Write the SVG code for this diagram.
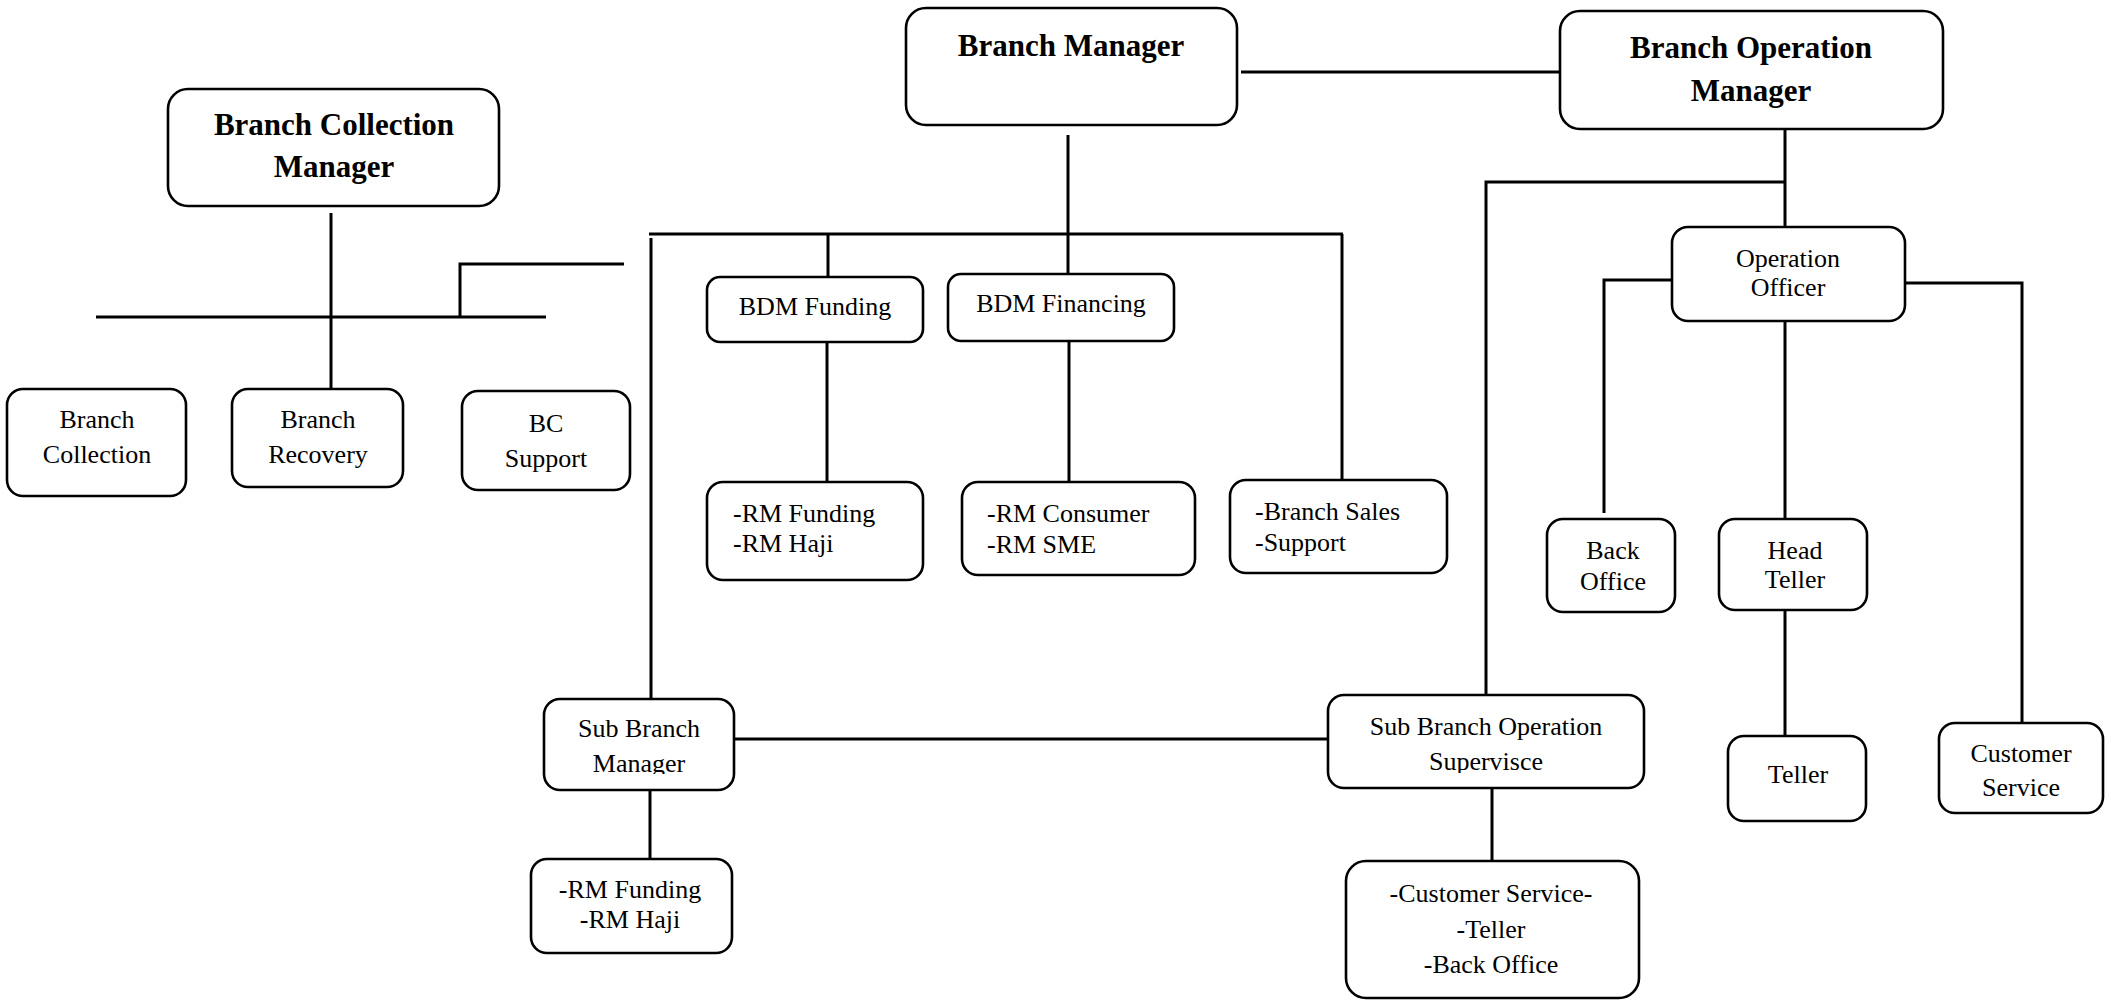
<svg xmlns="http://www.w3.org/2000/svg" width="2111" height="1001" viewBox="0 0 2111 1001">
<style>
.box{fill:#fff;stroke:#000;stroke-width:2.6}
.t{font-family:"Liberation Serif","Times New Roman",serif;font-size:26px;fill:#000}
.b{font-family:"Liberation Serif","Times New Roman",serif;font-size:31px;font-weight:bold;fill:#000}
.c{text-anchor:middle}
.ln{stroke:#000;stroke-width:3;fill:none}
</style>
<defs>
<clipPath id="clipSBM"><rect x="540" y="690" width="200" height="84"/></clipPath>
<clipPath id="clipSBOS"><rect x="1320" y="690" width="330" height="83"/></clipPath>
</defs>
<rect width="2111" height="1001" fill="#fff"/>
<g id="connectors">
<line class="ln" x1="1241" y1="72" x2="1560" y2="72"/>
<line class="ln" x1="1068" y1="135" x2="1068" y2="274"/>
<line class="ln" x1="649" y1="234" x2="1343" y2="234"/>
<line class="ln" x1="828" y1="234" x2="828" y2="276"/>
<line class="ln" x1="1342" y1="234" x2="1342" y2="480"/>
<line class="ln" x1="651" y1="238" x2="651" y2="699"/>
<line class="ln" x1="827" y1="342" x2="827" y2="482"/>
<line class="ln" x1="1069" y1="341" x2="1069" y2="482"/>
<line class="ln" x1="331" y1="213" x2="331" y2="388"/>
<line class="ln" x1="96" y1="317" x2="546" y2="317"/>
<polyline class="ln" points="460,316 460,264 624,264"/>
<line class="ln" x1="650" y1="787" x2="650" y2="859"/>
<line class="ln" x1="734" y1="739" x2="1328" y2="739"/>
<line class="ln" x1="1785" y1="129" x2="1785" y2="227"/>
<polyline class="ln" points="1785,182 1486,182 1486,695"/>
<line class="ln" x1="1492" y1="786" x2="1492" y2="861"/>
<polyline class="ln" points="1675,280 1604,280 1604,513"/>
<polyline class="ln" points="1905,283 2022,283 2022,723"/>
<line class="ln" x1="1785" y1="321" x2="1785" y2="519"/>
<line class="ln" x1="1785" y1="610" x2="1785" y2="736"/>
</g>
<g id="branch-manager">
<rect class="box" x="906" y="8" width="331" height="117" rx="20"/>
<text class="b c" x="1071" y="56">Branch Manager</text>
</g>
<g id="branch-operation-manager">
<rect class="box" x="1560" y="11" width="383" height="118" rx="20"/>
<text class="b c" x="1751" y="58">Branch Operation</text>
<text class="b c" x="1751" y="101">Manager</text>
</g>
<g id="branch-collection-manager">
<rect class="box" x="168" y="89" width="331" height="117" rx="20"/>
<text class="b c" x="334" y="135">Branch Collection</text>
<text class="b c" x="334" y="177">Manager</text>
</g>
<g id="branch-collection">
<rect class="box" x="7" y="389" width="179" height="107" rx="16"/>
<text class="t c" x="97" y="428">Branch</text>
<text class="t c" x="97" y="463">Collection</text>
</g>
<g id="branch-recovery">
<rect class="box" x="232" y="389" width="171" height="98" rx="16"/>
<text class="t c" x="318" y="428">Branch</text>
<text class="t c" x="318" y="463">Recovery</text>
</g>
<g id="bc-support">
<rect class="box" x="462" y="391" width="168" height="99" rx="16"/>
<text class="t c" x="546" y="432">BC</text>
<text class="t c" x="546" y="467">Support</text>
</g>
<g id="bdm-funding">
<rect class="box" x="707" y="277" width="216" height="65" rx="13"/>
<text class="t c" x="815" y="315">BDM Funding</text>
</g>
<g id="bdm-financing">
<rect class="box" x="948" y="274" width="226" height="67" rx="13"/>
<text class="t c" x="1061" y="312">BDM Financing</text>
</g>
<g id="rm-funding-haji">
<rect class="box" x="707" y="482" width="216" height="98" rx="16"/>
<text class="t" x="733" y="522">-RM Funding</text>
<text class="t" x="733" y="552">-RM Haji</text>
</g>
<g id="rm-consumer-sme">
<rect class="box" x="962" y="482" width="233" height="93" rx="16"/>
<text class="t" x="987" y="522">-RM Consumer</text>
<text class="t" x="987" y="553">-RM SME</text>
</g>
<g id="branch-sales-support">
<rect class="box" x="1230" y="480" width="217" height="93" rx="16"/>
<text class="t" x="1255" y="520">-Branch Sales</text>
<text class="t" x="1255" y="551">-Support</text>
</g>
<g id="sub-branch-manager">
<rect class="box" x="544" y="699" width="190" height="91" rx="16"/>
<g clip-path="url(#clipSBM)">
<text class="t c" x="639" y="737">Sub Branch</text>
<text class="t c" x="639" y="772">Manager</text>
</g>
</g>
<g id="sub-rm-funding-haji">
<rect class="box" x="531" y="859" width="201" height="94" rx="16"/>
<text class="t c" x="630" y="898">-RM Funding</text>
<text class="t c" x="630" y="928">-RM Haji</text>
</g>
<g id="sub-branch-operation-supervisce">
<rect class="box" x="1328" y="695" width="316" height="93" rx="16"/>
<g clip-path="url(#clipSBOS)">
<text class="t c" x="1486" y="735">Sub Branch Operation</text>
<text class="t c" x="1486" y="770">Supervisce</text>
</g>
</g>
<g id="cs-teller-backoffice">
<rect class="box" x="1346" y="861" width="293" height="137" rx="20"/>
<text class="t c" x="1491" y="902">-Customer Service-</text>
<text class="t c" x="1491" y="938">-Teller</text>
<text class="t c" x="1491" y="973">-Back Office</text>
</g>
<g id="operation-officer">
<rect class="box" x="1672" y="227" width="233" height="94" rx="16"/>
<text class="t c" x="1788" y="267">Operation</text>
<text class="t c" x="1788" y="296">Officer</text>
</g>
<g id="back-office">
<rect class="box" x="1547" y="519" width="128" height="93" rx="16"/>
<text class="t c" x="1613" y="559">Back</text>
<text class="t c" x="1613" y="590">Office</text>
</g>
<g id="head-teller">
<rect class="box" x="1719" y="519" width="148" height="91" rx="16"/>
<text class="t c" x="1795" y="559">Head</text>
<text class="t c" x="1795" y="588">Teller</text>
</g>
<g id="teller">
<rect class="box" x="1728" y="736" width="138" height="85" rx="16"/>
<text class="t c" x="1798" y="783">Teller</text>
</g>
<g id="customer-service">
<rect class="box" x="1939" y="723" width="164" height="90" rx="16"/>
<text class="t c" x="2021" y="762">Customer</text>
<text class="t c" x="2021" y="796">Service</text>
</g>
</svg>
